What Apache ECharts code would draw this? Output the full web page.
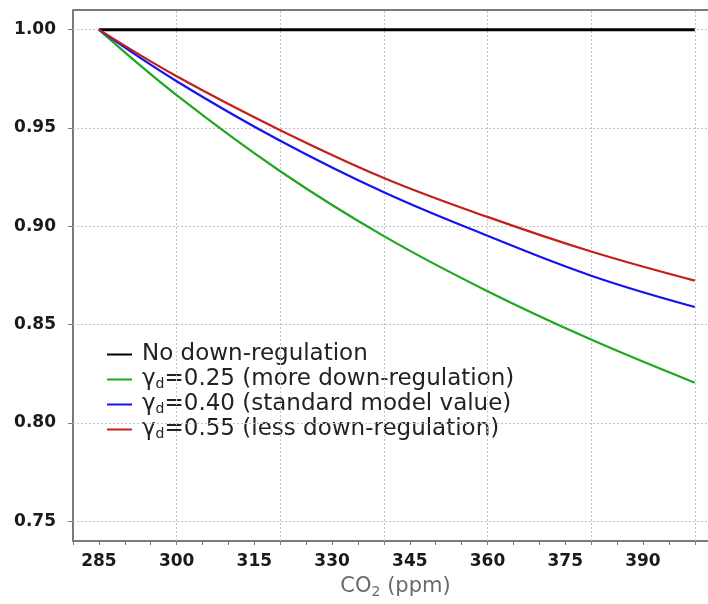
<!DOCTYPE html>
<html><head><meta charset="utf-8">
<script src="https://cdn.jsdelivr.net/npm/echarts@6/dist/echarts.min.js"></script>
<style>html,body{margin:0;padding:0;background:#fff;overflow:hidden;width:708px;height:604px}#c{width:760px;height:604px}</style>
</head><body><div id="c"></div>
<script>
// Data
const co2 = [285, 300, 320, 340, 360, 380, 400];
const noDown = [1.0, 1.0, 1.0, 1.0, 1.0, 1.0, 1.0];
const gamma025 = [1.0, 0.9667, 0.928, 0.895, 0.867, 0.8424, 0.8205];
const gamma040 = [1.0, 0.9738, 0.9435, 0.9173, 0.8952, 0.8749, 0.859];
const gamma055 = [1.0, 0.9763, 0.9489, 0.9246, 0.9048, 0.8872, 0.8724];
const seriesNames = ['No down-regulation', 'γd=0.25 (more down-regulation)', 'γd=0.40 (standard model value)', 'γd=0.55 (less down-regulation)'];
const seriesColors = ['#000000', '#1fa81f', '#1414f0', '#c41e1e'];
// Tick labels / grid positions
const xLabels = [285, 300, 315, 330, 345, 360, 375, 390];
const xTicks = [280, 285, 290, 295, 300, 305, 310, 315, 320, 325, 330, 335, 340, 345, 350, 355, 360, 365, 370, 375, 380, 385, 390, 395, 400, 405];
const xGrid = [300, 320, 340, 360, 380, 400];
const yLabels = [0.75, 0.80, 0.85, 0.90, 0.95, 1.00];
const xRange = [280, 406.8];
const yRange = [0.74, 1.01];

const pairs = ys => co2.map((x, i) => [x, ys[i]]);
const allData = [noDown, gamma025, gamma040, gamma055];

const chart = echarts.init(document.getElementById('c'), null, {renderer: 'canvas'});
const axisGray = '#7a7a7a';
const font = 'DejaVu Sans, Verdana, sans-serif';

const series = allData.map((d, i) => ({
  name: seriesNames[i],
  type: 'line',
  data: pairs(d),
  smooth: i === 0 ? false : 0.4,
  symbol: 'none',
  color: seriesColors[i],
  lineStyle: {width: i === 0 ? 3 : 2.2, color: seriesColors[i]},
  zlevel: 1,
  z: 3,
  silent: true
}));

series.unshift({
  name: '_grid',
  type: 'line',
  data: [],
  silent: true,
  z: 1,
  markLine: {
    silent: true,
    symbol: 'none',
    label: {show: false},
    lineStyle: {type: [2, 2], color: '#c4c4c4', width: 1},
    animation: false,
    data: xGrid.map(v => ({xAxis: v})).concat(yLabels.map(v => ({yAxis: v})))
      .concat([{yAxis: yRange[1], lineStyle: {type: 'solid', color: axisGray, width: 2}}])
  }
});

chart.setOption({
  animation: false,
  backgroundColor: '#fff',
  grid: {left: 73, right: 30, top: 10, bottom: 62},
  legend: {
    data: seriesNames,
    orient: 'vertical',
    left: 102,
    top: 338,
    itemGap: 2,
    itemWidth: 25,
    itemHeight: 2,
    icon: 'rect',
    selectedMode: false,
    formatter: name => name.startsWith('γd')
      ? '{p|}{t|γ}{s|d}{t|' + name.slice(2) + '}'
      : '{p|}{t|' + name + '}',
    textStyle: {
      rich: {
        p: {width: 5},
        t: {fontSize: 23, fontFamily: font, color: '#222', lineHeight: 23},
        s: {fontSize: 14, fontFamily: font, color: '#222', lineHeight: 13, verticalAlign: 'bottom'}
      }
    }
  },
  xAxis: {
    type: 'value',
    min: xRange[0], max: xRange[1],
    interval: 5,
    name: '{t|CO}{s|2}{t| (ppm)}',
    nameLocation: 'middle',
    nameGap: 34,
    nameTextStyle: {
      padding: [0, 12, 0, 0],
      rich: {
        t: {fontSize: 21, fontFamily: font, color: '#6a6a6a', lineHeight: 24},
        s: {fontSize: 14, fontFamily: font, color: '#6a6a6a', lineHeight: 14, verticalAlign: 'bottom'}
      }
    },
    axisLine: {show: true, onZero: false, lineStyle: {color: axisGray, width: 2}},
    axisTick: {show: true, length: 4, customValues: xTicks, lineStyle: {color: axisGray, width: 1}},
    axisLabel: {customValues: xLabels, margin: 12, fontSize: 17, fontWeight: 'bold', fontFamily: font, color: '#1a1a1a'},
    splitLine: {show: false}
  },
  yAxis: {
    type: 'value',
    min: yRange[0], max: yRange[1],
    axisLine: {show: true, onZero: false, lineStyle: {color: axisGray, width: 2}},
    axisTick: {show: true, length: 5, customValues: yLabels, lineStyle: {color: axisGray, width: 1}},
    axisLabel: {customValues: yLabels, margin: 17, fontSize: 17, fontWeight: 'bold', fontFamily: font, color: '#1a1a1a',
      formatter: v => v.toFixed(2)},
    splitLine: {show: false}
  },
  series: series
});
</script>
</body></html>
